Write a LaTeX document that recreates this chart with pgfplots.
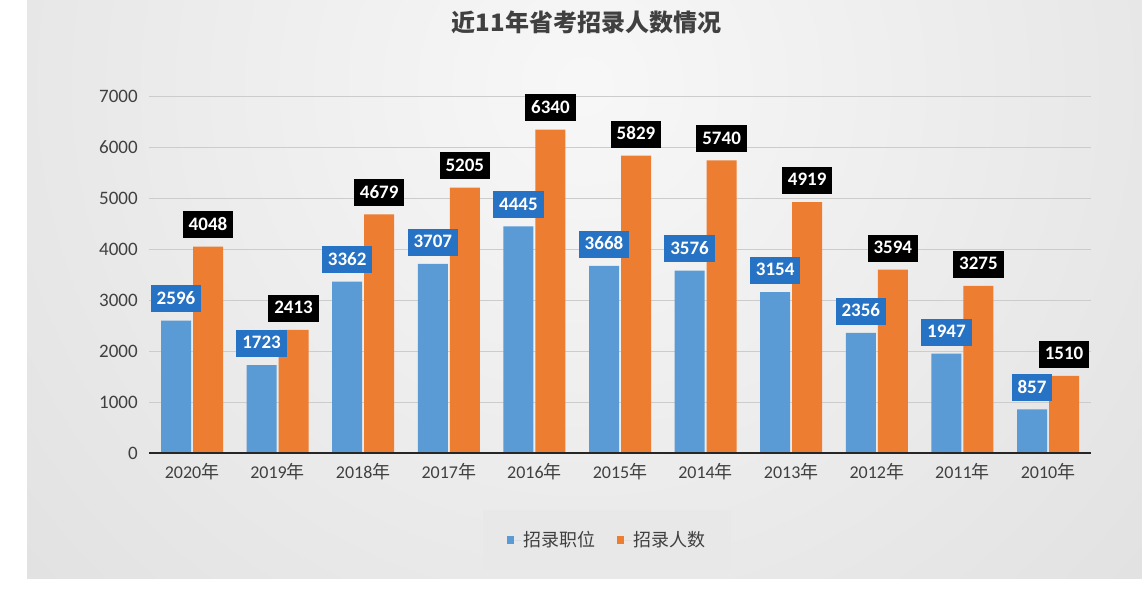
\documentclass[border=0pt]{standalone}
\usepackage{pgfplots}
\pgfplotsset{compat=1.18}
\usepackage{fontspec}
\setmainfont{Carlito}
\newfontfamily\cjk{Noto Sans CJK SC}
\definecolor{barblue}{HTML}{5B9BD5}
\definecolor{barorange}{HTML}{ED7D31}
\definecolor{lblblue}{HTML}{2672C4}
\definecolor{txtgray}{HTML}{404040}
\begin{document}
\begin{tikzpicture}[x=1pt,y=1pt]
\path[use as bounding box] (0,0) rectangle (1142,606);
\fill[white] (0,0) rectangle (1142,606);
\begin{scope}
\clip (27,28) rectangle (1142,606);
\shade[inner color=gray!6, outer color=gray!40] (585,520) circle (1500);
\end{scope}
\node[font=\cjk\bfseries\fontsize{24}{24}\selectfont, text=txtgray] at (586.5,584) {近11年省考招录人数情况};
\begin{axis}[
  at={(149.2pt,153pt)}, anchor=south west,
  scale only axis, width=941.6pt, height=357pt,
  xmin=-0.5, xmax=10.5, ymin=0, ymax=7000,
  ybar=2pt, bar width=30pt,
  axis line style={draw=none},
  tick style={draw=none}, major tick length=0pt,
  ymajorgrids, grid style={color=gray!40, line width=0.8pt},
  ytick={0,1000,...,7000},
  xtick={0,...,10},
  xticklabels={2020{\cjk 年},2019{\cjk 年},2018{\cjk 年},2017{\cjk 年},2016{\cjk 年},2015{\cjk 年},2014{\cjk 年},2013{\cjk 年},2012{\cjk 年},2011{\cjk 年},2010{\cjk 年}},
  /pgf/number format/assume math mode=true,
  /pgf/number format/1000 sep={},
  yticklabel style={font=\fontsize{19}{19}\selectfont, text=txtgray, xshift=-8pt},
  xticklabel style={font=\fontsize{18}{18}\selectfont, text=txtgray, yshift=-7pt},
  legend style={at={(0.4862,-0.2437)}, anchor=center, fill=gray!18, draw=none,
    font=\cjk\fontsize{18}{18}\selectfont, text=txtgray, inner xsep=24pt, inner ysep=20pt,
    /tikz/every even column/.append style={column sep=20pt}},
  legend columns=2,
  legend image code/.code={\fill[#1] (0pt,-4pt) rectangle (7pt,4pt); \path (0pt,0pt) -- (14pt,0pt);},
  nodes near coords,
  every node near coord/.append style={text=white, font=\bfseries\fontsize{19}{19}\selectfont,
    inner xsep=6pt, inner ysep=7pt, text height=12pt, text depth=1pt, anchor=south, yshift=8pt},
]
\addplot[fill=barblue, draw=none, every node near coord/.append style={fill=lblblue}] coordinates {
(0,2596) (1,1723) (2,3362) (3,3707) (4,4445) (5,3668) (6,3576) (7,3154) (8,2356) (9,1947) (10,857)};
\addplot[fill=barorange, draw=none, every node near coord/.append style={fill=black}] coordinates {
(0,4048) (1,2413) (2,4679) (3,5205) (4,6340) (5,5829) (6,5740) (7,4919) (8,3594) (9,3275) (10,1510)};
\legend{招录职位,招录人数}
\draw[line width=2.5pt, color=black!85] (axis cs:-0.5,0) -- (axis cs:10.5,0);
\end{axis}
\end{tikzpicture}
\end{document}
